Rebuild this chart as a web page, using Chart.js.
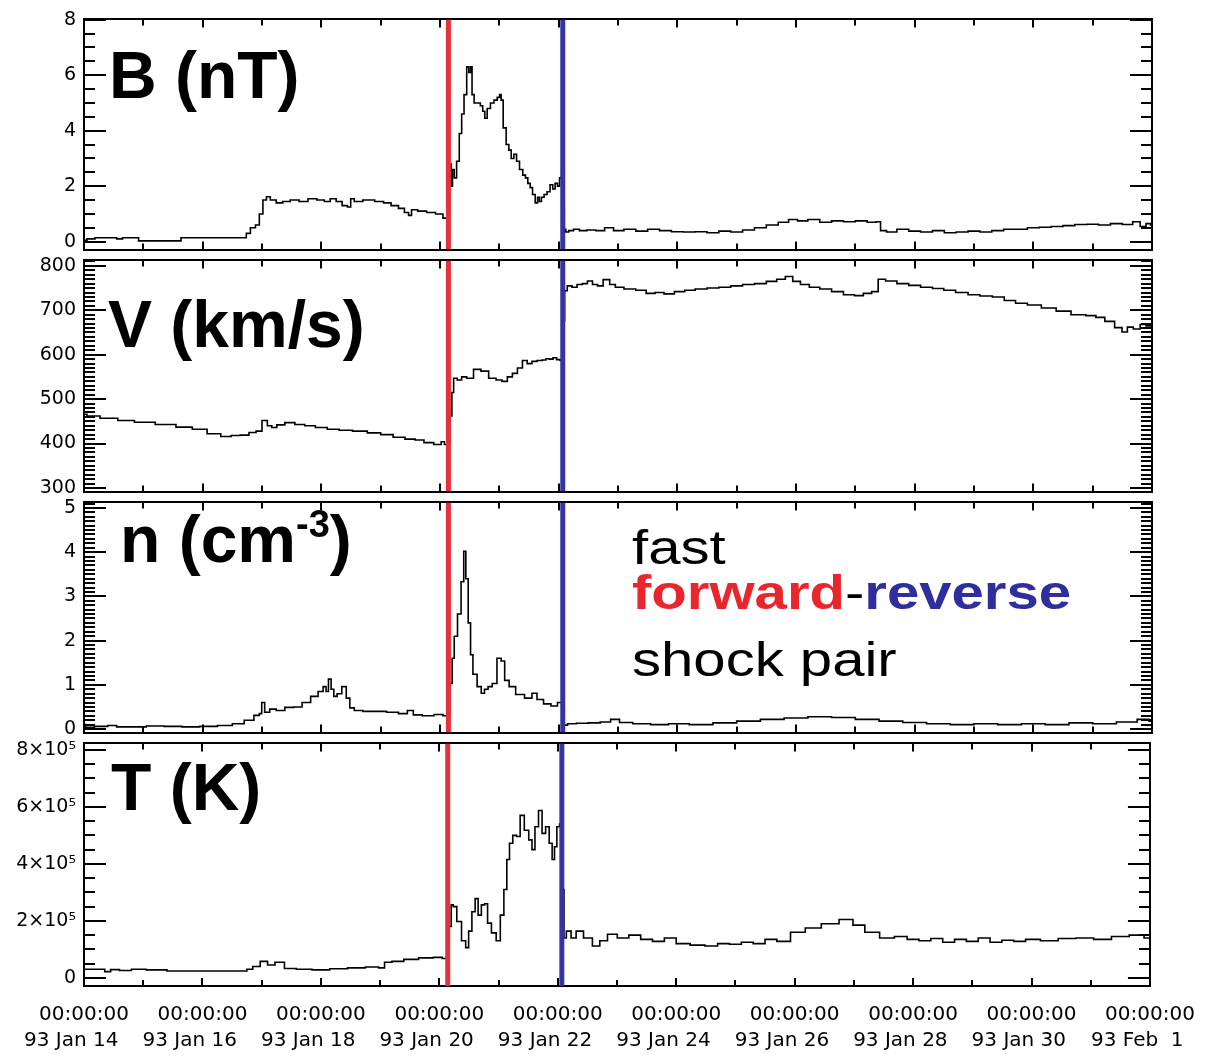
<!DOCTYPE html>
<html>
<head>
<meta charset="utf-8">
<script src="https://cdn.jsdelivr.net/npm/chart.js@4.4.1/dist/chart.umd.min.js"></script>
<style>
html,body{margin:0;padding:0;background:#fff;}
#wrap{position:relative;width:1225px;height:1058px;overflow:hidden;background:#fff;}
#wrap canvas{position:absolute;left:0;}
.ttl{position:absolute;font-family:"Liberation Sans",Arial,sans-serif;font-weight:bold;font-size:66px;line-height:1;color:#000;white-space:nowrap;}
.ttl .sup{font-size:38px;position:relative;top:-25px;}
.ann{position:absolute;font-family:"Liberation Sans",Arial,sans-serif;font-size:48px;line-height:1;white-space:nowrap;color:#000;transform:scaleX(1.21);transform-origin:0 0;}
.ann b{font-weight:bold;}
</style>
</head>
<body>
<div id="wrap"></div>
<script>
// ---------------- data ----------------
// time axis: day of January 1993 (32 = Feb 1)
const xTickValues = [14, 16, 18, 20, 22, 24, 26, 28, 30, 32];
const xTickTimes  = ['00:00:00','00:00:00','00:00:00','00:00:00','00:00:00','00:00:00','00:00:00','00:00:00','00:00:00','00:00:00'];
const xTickDates  = ['93 Jan 14','93 Jan 16','93 Jan 18','93 Jan 20','93 Jan 22','93 Jan 24','93 Jan 26','93 Jan 28','93 Jan 30','93 Feb  1'];

const shockTimes  = [20.142, 22.069];          // forward, reverse shock
const shockNames  = ['forward shock', 'reverse shock'];

const bTicks = [0, 2, 4, 6, 8];
const bTickLabels = ['0', '2', '4', '6', '8'];
const vTicks = [300, 400, 500, 600, 700, 800];
const vTickLabels = ['300', '400', '500', '600', '700', '800'];
const nTicks = [0, 1, 2, 3, 4, 5];
const nTickLabels = ['0', '1', '2', '3', '4', '5'];
const tTicks = [0, 200000, 400000, 600000, 800000];
const tTickLabels = ['0', '2×10⁵', '4×10⁵', '6×10⁵', '8×10⁵'];

// B (nT)
const bTime = [14.00,14.10,14.27,14.50,14.60,14.70,14.85,14.99,15.30,15.62,15.65,16.00,16.40,16.71,16.76,16.85,16.93,16.98,17.05,17.10,17.18,17.30,17.40,17.55,17.70,17.85,18.00,18.10,18.20,18.30,18.40,18.48,18.51,18.60,18.80,19.00,19.10,19.25,19.35,19.45,19.49,19.55,19.70,19.85,20.00,20.10,20.14,20.18,20.20,20.22,20.26,20.30,20.35,20.38,20.43,20.47,20.50,20.53,20.55,20.60,20.66,20.70,20.74,20.77,20.82,20.88,20.94,20.99,21.02,21.04,21.09,21.14,21.18,21.22,21.27,21.31,21.37,21.42,21.46,21.50,21.54,21.58,21.63,21.66,21.69,21.73,21.78,21.83,21.88,21.92,21.96,22.00,22.03,22.06,22.09,22.10,22.14,22.20,22.30,22.40,22.55,22.70,22.85,23.00,23.20,23.40,23.60,23.80,24.00,24.20,24.40,24.60,24.80,25.00,25.20,25.40,25.60,25.80,25.95,26.10,26.30,26.50,26.70,26.90,27.10,27.30,27.40,27.45,27.60,27.80,28.00,28.20,28.40,28.60,28.80,29.00,29.20,29.40,29.60,29.80,30.00,30.20,30.40,30.60,30.80,31.00,31.20,31.40,31.60,31.75,31.85,31.95,32.00];
const bVal  = [0.05,0.10,0.14,0.14,0.10,0.14,0.14,0.03,0.03,0.03,0.14,0.14,0.14,0.14,0.30,0.50,0.60,1.00,1.50,1.62,1.50,1.40,1.45,1.50,1.45,1.55,1.50,1.45,1.55,1.45,1.30,1.25,1.55,1.45,1.50,1.45,1.40,1.30,1.20,1.05,0.95,1.15,1.10,1.05,1.00,0.85,0.95,2.8,2.0,2.6,2.3,2.9,3.9,4.6,5.3,6.3,6.1,6.3,5.3,5.0,5.0,4.9,4.7,4.45,4.8,5.0,5.1,5.2,5.3,5.1,4.1,3.5,3.3,3.0,3.15,2.9,2.6,2.4,2.3,2.1,1.95,1.7,1.4,1.6,1.45,1.6,1.7,1.8,2.05,1.9,2.1,2.0,2.3,2.35,1.2,0.45,0.35,0.40,0.45,0.40,0.42,0.40,0.50,0.40,0.45,0.38,0.45,0.40,0.36,0.35,0.36,0.32,0.38,0.35,0.42,0.50,0.60,0.70,0.80,0.75,0.80,0.70,0.75,0.72,0.75,0.70,0.72,0.40,0.35,0.45,0.38,0.35,0.40,0.32,0.35,0.38,0.35,0.40,0.45,0.45,0.50,0.52,0.55,0.58,0.62,0.63,0.60,0.65,0.62,0.72,0.55,0.65,0.60];

// V (km/s)
const vTime = [14.00,14.10,14.44,14.70,15.00,15.40,15.70,15.95,16.20,16.41,16.55,16.71,16.85,16.95,17.05,17.13,17.20,17.30,17.47,17.64,17.80,18.00,18.20,18.40,18.65,18.90,19.10,19.32,19.50,19.66,19.80,19.99,20.05,20.10,20.14,20.19,20.21,20.25,20.33,20.40,20.50,20.63,20.75,20.89,21.00,21.09,21.18,21.26,21.35,21.43,21.51,21.59,21.68,21.76,21.81,21.88,21.93,22.00,22.05,22.09,22.11,22.18,22.27,22.35,22.45,22.52,22.62,22.69,22.81,22.91,23.00,23.20,23.40,23.55,23.70,23.85,24.05,24.20,24.40,24.60,24.80,25.00,25.20,25.40,25.60,25.75,25.89,26.00,26.15,26.30,26.50,26.70,26.90,27.07,27.20,27.35,27.42,27.60,27.80,28.00,28.20,28.40,28.58,28.80,29.00,29.20,29.42,29.60,29.80,30.00,30.27,30.50,30.77,31.00,31.11,31.30,31.44,31.55,31.62,31.75,31.85,31.95,32.00];
const vVal  = [466,462,457,452,448,443,437,432,422,416,418,419,425,428,452,440,436,442,447,443,440,436,432,430,428,424,420,414,410,408,402,398,404,398,400,462,515,547,543,550,547,567,563,547,543,540,550,558,570,587,580,585,587,588,591,590,593,589,587,676,744,755,752,758,760,766,758,755,769,758,752,748,745,738,740,737,742,745,748,750,752,755,758,760,765,770,776,765,758,752,748,742,735,733,738,742,770,766,760,756,752,749,745,740,735,732,730,722,716,712,705,698,690,688,684,675,661,651,662,658,668,665,668];

// n (cm^-3)
const nTime = [14.00,14.05,14.30,14.50,14.60,14.90,15.20,15.50,15.80,16.10,16.40,16.60,16.80,16.93,16.98,17.01,17.08,17.18,17.30,17.47,17.60,17.75,17.89,18.00,18.06,18.10,18.14,18.19,18.23,18.30,18.39,18.45,18.51,18.60,18.80,19.00,19.20,19.40,19.50,19.60,19.80,20.00,20.10,20.14,20.19,20.22,20.26,20.33,20.38,20.42,20.45,20.50,20.53,20.58,20.67,20.72,20.78,20.84,20.92,21.00,21.06,21.12,21.21,21.34,21.51,21.59,21.68,21.81,21.93,22.03,22.07,22.10,22.20,22.40,22.60,22.80,22.95,23.10,23.40,23.70,24.00,24.40,24.80,25.20,25.60,26.00,26.40,26.80,27.20,27.60,28.00,28.40,28.80,29.20,29.60,30.00,30.40,30.80,31.20,31.60,31.90,32.00];
const nVal  = [0.10,0.04,0.06,0.08,0.05,0.05,0.07,0.06,0.05,0.06,0.08,0.12,0.20,0.31,0.35,0.60,0.38,0.45,0.42,0.49,0.50,0.60,0.74,0.85,0.96,0.85,1.13,0.90,0.74,0.80,0.96,0.70,0.48,0.42,0.40,0.40,0.38,0.35,0.42,0.32,0.30,0.33,0.30,0.33,1.03,1.60,2.10,2.60,3.33,4.02,3.40,2.40,1.68,1.24,0.96,0.81,0.90,0.96,1.03,1.60,1.54,1.10,0.96,0.78,0.70,0.81,0.67,0.57,0.52,0.60,0.55,0.09,0.12,0.13,0.14,0.16,0.22,0.15,0.12,0.10,0.12,0.10,0.14,0.18,0.22,0.25,0.28,0.26,0.22,0.18,0.15,0.12,0.10,0.12,0.10,0.12,0.10,0.14,0.12,0.16,0.22,0.18];

// T (K)
const tTime = [14.00,14.30,14.40,14.50,14.70,14.90,15.20,15.60,16.00,16.40,16.70,16.80,16.90,17.05,17.15,17.30,17.47,17.70,18.00,18.30,18.60,18.90,19.05,19.10,19.30,19.50,19.80,20.00,20.10,20.14,20.19,20.21,20.26,20.33,20.42,20.47,20.52,20.58,20.63,20.68,20.74,20.79,20.84,20.92,21.00,21.06,21.12,21.16,21.21,21.27,21.34,21.39,21.48,21.54,21.59,21.64,21.71,21.76,21.83,21.88,21.93,21.96,22.01,22.05,22.10,22.11,22.18,22.27,22.35,22.52,22.65,22.77,22.91,23.10,23.30,23.50,23.70,23.90,24.10,24.37,24.60,24.80,25.00,25.20,25.40,25.60,25.80,26.06,26.30,26.60,26.90,27.07,27.30,27.57,27.80,28.00,28.20,28.40,28.60,28.80,29.00,29.20,29.40,29.60,29.80,30.00,30.30,30.60,30.90,31.20,31.50,31.80,32.00];
const tVal  = [30000,30000,22000,29000,26000,30000,28000,24000,24000,24000,24000,30000,40000,58000,45000,55000,33000,30000,28000,32000,35000,38000,35000,55000,58000,65000,70000,72000,68000,75000,180000,256000,250000,198000,130000,106000,164000,232000,278000,220000,256000,260000,192000,158000,130000,220000,310000,415000,472000,500000,496000,570000,518000,484000,450000,530000,587000,507000,530000,472000,415000,460000,530000,540000,310000,140000,164000,140000,164000,140000,112000,130000,153000,140000,150000,135000,128000,140000,120000,115000,112000,120000,118000,125000,120000,135000,128000,160000,175000,190000,205000,185000,160000,140000,145000,135000,130000,138000,125000,135000,128000,140000,125000,132000,128000,135000,130000,138000,140000,135000,145000,150000,140000];

// ---------------- layout / style ----------------
const W = 1225, H = 1058;
const PLOT_LEFT = 84, PLOT_RIGHT = 1152;
const PANEL_PAD = 14;
const SHOCK_COLORS = ['#E8303A', '#3434A6'];

const panels = [
  {key:'B', top:13,  bottom:255, min:-0.285, max:8.01,  ticks:bTicks, labels:bTickLabels, minor:0.5,   time:bTime, vals:bVal},
  {key:'V', top:255, bottom:497, min:291.8,  max:812.3, ticks:vTicks, labels:vTickLabels, minor:10,    time:vTime, vals:vVal},
  {key:'n', top:497, bottom:738, min:-0.08,  max:5.125, ticks:nTicks, labels:nTickLabels, minor:0.1,   time:nTime, vals:nVal},
  {key:'T', top:738, bottom:986, min:-28500, max:822500,ticks:tTicks, labels:tTickLabels, minor:50000, time:tTime, vals:tVal}
];

Chart.defaults.font.family = '"DejaVu Sans", sans-serif';
Chart.defaults.color = '#000';

// inward IDL-style tick marks on all four sides, placed with the chart's own scales
function makeTickPlugin(p) {
  return {
    id: 'idlTicks' + p.key,
    afterDatasetsDraw(chart) {
      const ctx = chart.ctx, a = chart.chartArea;
      const xs = chart.scales.x, ys = chart.scales.y;
      ctx.save();
      ctx.strokeStyle = '#000';
      ctx.lineWidth = 2;
      ctx.beginPath();
      const start = Math.ceil(ys.min / p.minor - 1e-6);
      const end = Math.floor(ys.max / p.minor + 1e-6);
      for (let k = start; k <= end; k++) {
        const v = k * p.minor;
        let major = false;
        for (const t of p.ticks) { if (Math.abs(t - v) < p.minor * 1e-3) major = true; }
        const len = major ? 22 : 11;
        const y = Math.round(ys.getPixelForValue(v));
        ctx.moveTo(a.left, y); ctx.lineTo(a.left + len, y);
        ctx.moveTo(a.right, y); ctx.lineTo(a.right - len, y);
      }
      for (let d = Math.ceil(xs.min); d <= xs.max; d++) {
        const major = xTickValues.indexOf(d) >= 0;
        const len = major ? 8 : 6;
        const x = Math.round(xs.getPixelForValue(d));
        ctx.moveTo(x, a.top); ctx.lineTo(x, a.top + len);
        ctx.moveTo(x, a.bottom); ctx.lineTo(x, a.bottom - len);
      }
      ctx.stroke();
      ctx.restore();
    }
  };
}

const wrap = document.getElementById('wrap');

panels.forEach((p, i) => {
  const last = i === panels.length - 1;
  const cTop = p.top - Math.min(PANEL_PAD, p.top);
  const cBottom = last ? H : p.bottom + PANEL_PAD;
  const topBox = p.top - cTop;
  const bottomBox = cBottom - p.bottom;

  const canvas = document.createElement('canvas');
  canvas.width = W;
  canvas.height = cBottom - cTop;
  canvas.style.top = cTop + 'px';
  canvas.style.width = W + 'px';
  canvas.style.height = (cBottom - cTop) + 'px';
  wrap.appendChild(canvas);

  const trace = p.time.map((t, k) => ({x: t, y: p.vals[k]}));
  const shockSets = shockTimes.map((t, k) => ({
    label: shockNames[k],
    data: [{x: t, y: p.min}, {x: t, y: p.max}],
    borderColor: SHOCK_COLORS[k],
    borderWidth: 5,
    pointRadius: 0,
    order: 0
  }));

  const border = {display: true, color: '#000', width: 2};

  new Chart(canvas, {
    type: 'line',
    data: {
      datasets: [
        {label: p.key, data: trace, borderColor: '#000', borderWidth: 1.6, pointRadius: 0, stepped: 'middle', order: 1},
        ...shockSets
      ]
    },
    options: {
      responsive: false,
      animation: false,
      devicePixelRatio: 1,
      layout: {padding: 0},
      plugins: {
        legend: {display: false},
        tooltip: {enabled: false}
      },
      scales: {
        x: {
          type: 'linear', position: 'bottom', min: 14, max: 32,
          afterBuildTicks: s => { s.ticks = xTickValues.map(v => ({value: v})); },
          afterFit: s => { s.height = bottomBox; },
          grid: {display: false, drawTicks: false},
          border: border,
          ticks: {
            display: last, autoSkip: false, maxRotation: 0, minRotation: 0,
            padding: 16,
            font: {size: 20, lineHeight: 1.3},
            color: '#000',
            callback: v => {
              const k = xTickValues.indexOf(v);
              return k < 0 ? '' : [xTickTimes[k], xTickDates[k] + '    '];
            }
          }
        },
        xTop: {
          type: 'linear', position: 'top', min: 14, max: 32,
          afterFit: s => { s.height = topBox; },
          grid: {display: false, drawTicks: false},
          border: border,
          ticks: {display: false}
        },
        y: {
          type: 'linear', position: 'left', min: p.min, max: p.max,
          afterBuildTicks: s => { s.ticks = p.ticks.map(v => ({value: v})); },
          afterFit: s => { s.width = PLOT_LEFT; },
          grid: {display: false, drawTicks: false},
          border: border,
          ticks: {
            autoSkip: false, padding: 8,
            font: {size: 19},
            color: '#000',
            callback: v => {
              const k = p.ticks.indexOf(v);
              return k < 0 ? '' : p.labels[k];
            }
          }
        },
        yRight: {
          type: 'linear', position: 'right', min: p.min, max: p.max,
          afterFit: s => { s.width = W - PLOT_RIGHT; },
          grid: {display: false, drawTicks: false},
          border: border,
          ticks: {display: false}
        }
      }
    },
    plugins: [makeTickPlugin(p)]
  });
});
</script>
<div class="ttl" style="left:109px;top:42px">B (nT)</div>
<div class="ttl" style="left:108px;top:291px">V (km/s)</div>
<div class="ttl" style="left:120px;top:506px">n (cm<span class="sup">-3</span>)</div>
<div class="ttl" style="left:111px;top:754px">T (K)</div>
<div class="ann" style="left:632px;top:524px">fast</div>
<div class="ann" style="left:632px;top:569px"><b style="color:#E8262B">forward</b>-<b style="color:#2E2E9E">reverse</b></div>
<div class="ann" style="left:632px;top:636px">shock pair</div>
</body>
</html>
